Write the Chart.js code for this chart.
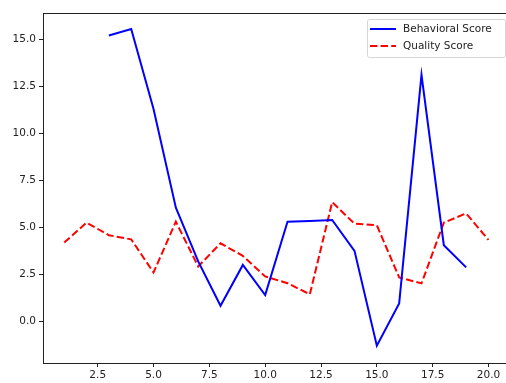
<!DOCTYPE html>
<html>
<head>
<meta charset="utf-8">
<script src="https://cdn.jsdelivr.net/npm/chart.js"></script>
<style>
  html, body { margin: 0; padding: 0; background: #fff; overflow: hidden; }
  #wrap { width: 506px; height: 383px; overflow: hidden; }
</style>
</head>
<body>
<div id="wrap"><canvas id="chart" width="530" height="383"></canvas></div>
<script>
// datos
const xValues = [1, 2, 3, 4, 5, 6, 7, 8, 9, 10, 11, 12, 13, 14, 15, 16, 17, 18, 19, 20];
const behavioralScore = [null, null, 15.2, 15.55, 11.3, 6.05, 3.2, 0.84, 3.01, 1.41, 5.31, 5.35, 5.4, 3.76, -1.28, 0.97, 13.11, 4.06, 2.88, null];
const qualityScore = [4.2, 5.26, 4.59, 4.37, 2.61, 5.31, 2.93, 4.16, 3.49, 2.4, 2.04, 1.45, 6.35, 5.2, 5.12, 2.35, 2.03, 5.26, 5.75, 4.34];
const xTicks = [2.5, 5.0, 7.5, 10.0, 12.5, 15.0, 17.5, 20.0];
const yTicks = [0.0, 2.5, 5.0, 7.5, 10.0, 12.5, 15.0];

const toPoints = arr => xValues.map((x, i) => ({ x: x, y: arr[i] }));

const FONT = 'DejaVu Sans';

// linea superior del marco (el grafico original sale recortado por la derecha)
const topSpine = {
  id: 'topSpine',
  afterDraw(chart) {
    const ctx = chart.ctx;
    const a = chart.chartArea;
    ctx.save();
    ctx.strokeStyle = '#222';
    ctx.lineWidth = 1;
    ctx.beginPath();
    ctx.moveTo(a.left, a.top + 0.5);
    ctx.lineTo(a.right, a.top + 0.5);
    ctx.stroke();
    ctx.restore();
  }
};

// leyenda estilo matplotlib
const boxLegend = {
  id: 'boxLegend',
  afterDraw(chart) {
    const ctx = chart.ctx;
    const x0 = 367, y0 = 19, w = 138, h = 38;
    ctx.save();
    ctx.fillStyle = 'rgba(255,255,255,0.8)';
    ctx.strokeStyle = '#d6d6d6';
    ctx.lineWidth = 1;
    ctx.beginPath();
    ctx.roundRect(x0 + 0.5, y0 + 0.5, w, h, 2);
    ctx.fill();
    ctx.stroke();
    chart.data.datasets.forEach((ds, i) => {
      const yy = y0 + 10 + i * 17;
      ctx.strokeStyle = ds.borderColor;
      ctx.lineWidth = ds.borderWidth;
      ctx.setLineDash(ds.borderDash || []);
      ctx.beginPath();
      ctx.moveTo(370, yy);
      ctx.lineTo(396, yy);
      ctx.stroke();
      ctx.setLineDash([]);
      ctx.fillStyle = '#222';
      ctx.font = '10.5px "' + FONT + '"';
      ctx.textBaseline = 'middle';
      ctx.fillText(ds.label, 403, yy);
    });
    ctx.restore();
  }
};

new Chart(document.getElementById('chart'), {
  type: 'line',
  data: {
    datasets: [
      {
        label: 'Behavioral Score',
        data: toPoints(behavioralScore),
        borderColor: '#0000ff',
        borderWidth: 2,
        pointRadius: 0,
        fill: false,
        spanGaps: false
      },
      {
        label: 'Quality Score',
        data: toPoints(qualityScore),
        borderColor: '#ff0000',
        borderWidth: 2,
        borderDash: [7.4, 3.2],
        pointRadius: 0,
        fill: false
      }
    ]
  },
  options: {
    responsive: false,
    animation: false,
    events: [],
    layout: { padding: { top: 13, right: 4, left: 0, bottom: 0 } },
    plugins: {
      legend: { display: false },
      tooltip: { enabled: false }
    },
    scales: {
      x: {
        type: 'linear',
        min: 0.05,
        max: 21.68,
        afterBuildTicks: axis => { axis.ticks = xTicks.map(v => ({ value: v })); },
        afterFit: axis => { axis.height = 20; },
        grid: { drawOnChartArea: false, drawTicks: true, tickLength: 4, color: '#222', tickWidth: 1 },
        border: { display: true, color: '#222', width: 1 },
        ticks: {
          padding: 2,
          color: '#222',
          font: { family: FONT, size: 10.5 },
          maxRotation: 0,
          callback: v => v.toFixed(1)
        }
      },
      y: {
        min: -2.2,
        max: 16.4,
        afterBuildTicks: axis => { axis.ticks = yTicks.map(v => ({ value: v })); },
        afterFit: axis => { axis.width = 43; },
        grid: { drawOnChartArea: false, drawTicks: true, tickLength: 4, color: '#222', tickWidth: 1 },
        border: { display: true, color: '#222', width: 1 },
        ticks: {
          padding: 3,
          color: '#222',
          font: { family: FONT, size: 10.5 },
          callback: v => v.toFixed(1)
        }
      }
    }
  },
  plugins: [topSpine, boxLegend]
});
</script>
</body>
</html>
